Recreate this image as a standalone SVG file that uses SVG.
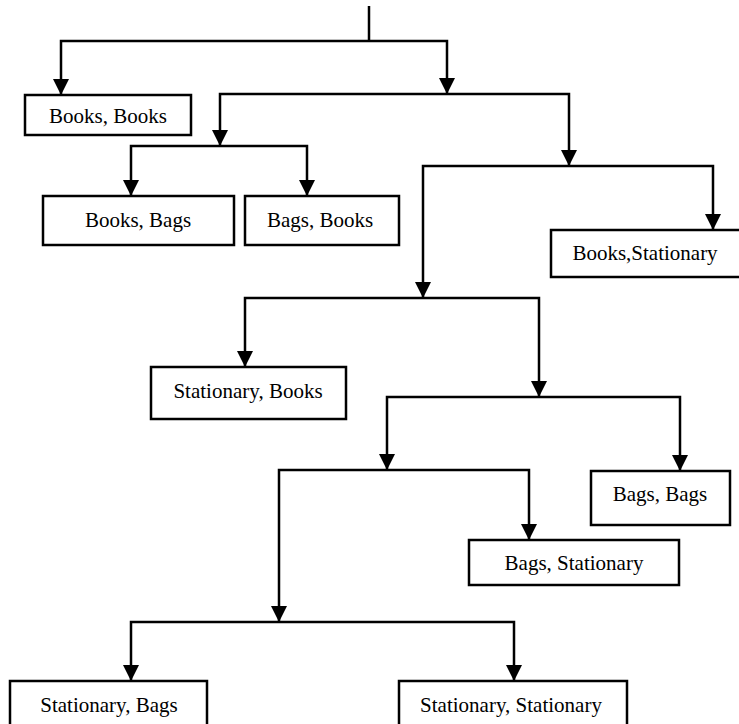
<svg xmlns="http://www.w3.org/2000/svg" width="739" height="724" viewBox="0 0 739 724">
<defs>
<marker id="ah" markerUnits="userSpaceOnUse" markerWidth="16" markerHeight="16" refX="16" refY="8" orient="auto">
<path d="M0,0 L16,8 L0,16 z" fill="#000"/>
</marker>
<style>
.c{fill:none;stroke:#000;stroke-width:2.5}
.a{marker-end:url(#ah)}
.b{fill:#fff;stroke:#000;stroke-width:2.5}
.t{font-family:"Liberation Serif","Times New Roman",serif;font-size:21px;fill:#000;text-anchor:middle}
</style>
</defs>
<rect width="739" height="724" fill="#fff"/>
<g id="connectors">
<path class="c" d="M369,6 V41"/>
<path class="c a" d="M369,41 H61 V95"/>
<path class="c a" d="M369,41 H447 V94"/>
<path class="c a" d="M447,94 H220 V146"/>
<path class="c a" d="M447,94 H569 V166"/>
<path class="c a" d="M220,146 H131 V196"/>
<path class="c a" d="M220,146 H307 V196"/>
<path class="c a" d="M569,166 H423 V298"/>
<path class="c a" d="M569,166 H713 V230"/>
<path class="c a" d="M423,298 H245 V367"/>
<path class="c a" d="M423,298 H539 V397"/>
<path class="c a" d="M539,397 H387 V470"/>
<path class="c a" d="M539,397 H680 V471"/>
<path class="c a" d="M387,470 H279 V622"/>
<path class="c a" d="M387,470 H529 V540"/>
<path class="c a" d="M279,622 H131 V681"/>
<path class="c a" d="M279,622 H514 V681"/>
</g>
<g id="n1"><rect class="b" x="25" y="95" width="166" height="40"/><text class="t" x="108" y="123">Books, Books</text></g>
<g id="n2"><rect class="b" x="43" y="196" width="191" height="49"/><text class="t" x="138" y="227">Books, Bags</text></g>
<g id="n3"><rect class="b" x="245" y="196" width="154" height="49"/><text class="t" x="320" y="227">Bags, Books</text></g>
<g id="n4"><rect class="b" x="551" y="230" width="190" height="47"/><text class="t" x="645" y="260">Books,Stationary</text></g>
<g id="n5"><rect class="b" x="151" y="367" width="195" height="52"/><text class="t" x="248" y="398">Stationary, Books</text></g>
<g id="n6"><rect class="b" x="591" y="471" width="139" height="54"/><text class="t" x="660" y="501">Bags, Bags</text></g>
<g id="n7"><rect class="b" x="469" y="540" width="210" height="45"/><text class="t" x="574" y="570">Bags, Stationary</text></g>
<g id="n8"><rect class="b" x="10" y="681" width="197" height="60"/><text class="t" x="109" y="712">Stationary, Bags</text></g>
<g id="n9"><rect class="b" x="399" y="681" width="228" height="60"/><text class="t" x="511" y="712">Stationary, Stationary</text></g>
</svg>
